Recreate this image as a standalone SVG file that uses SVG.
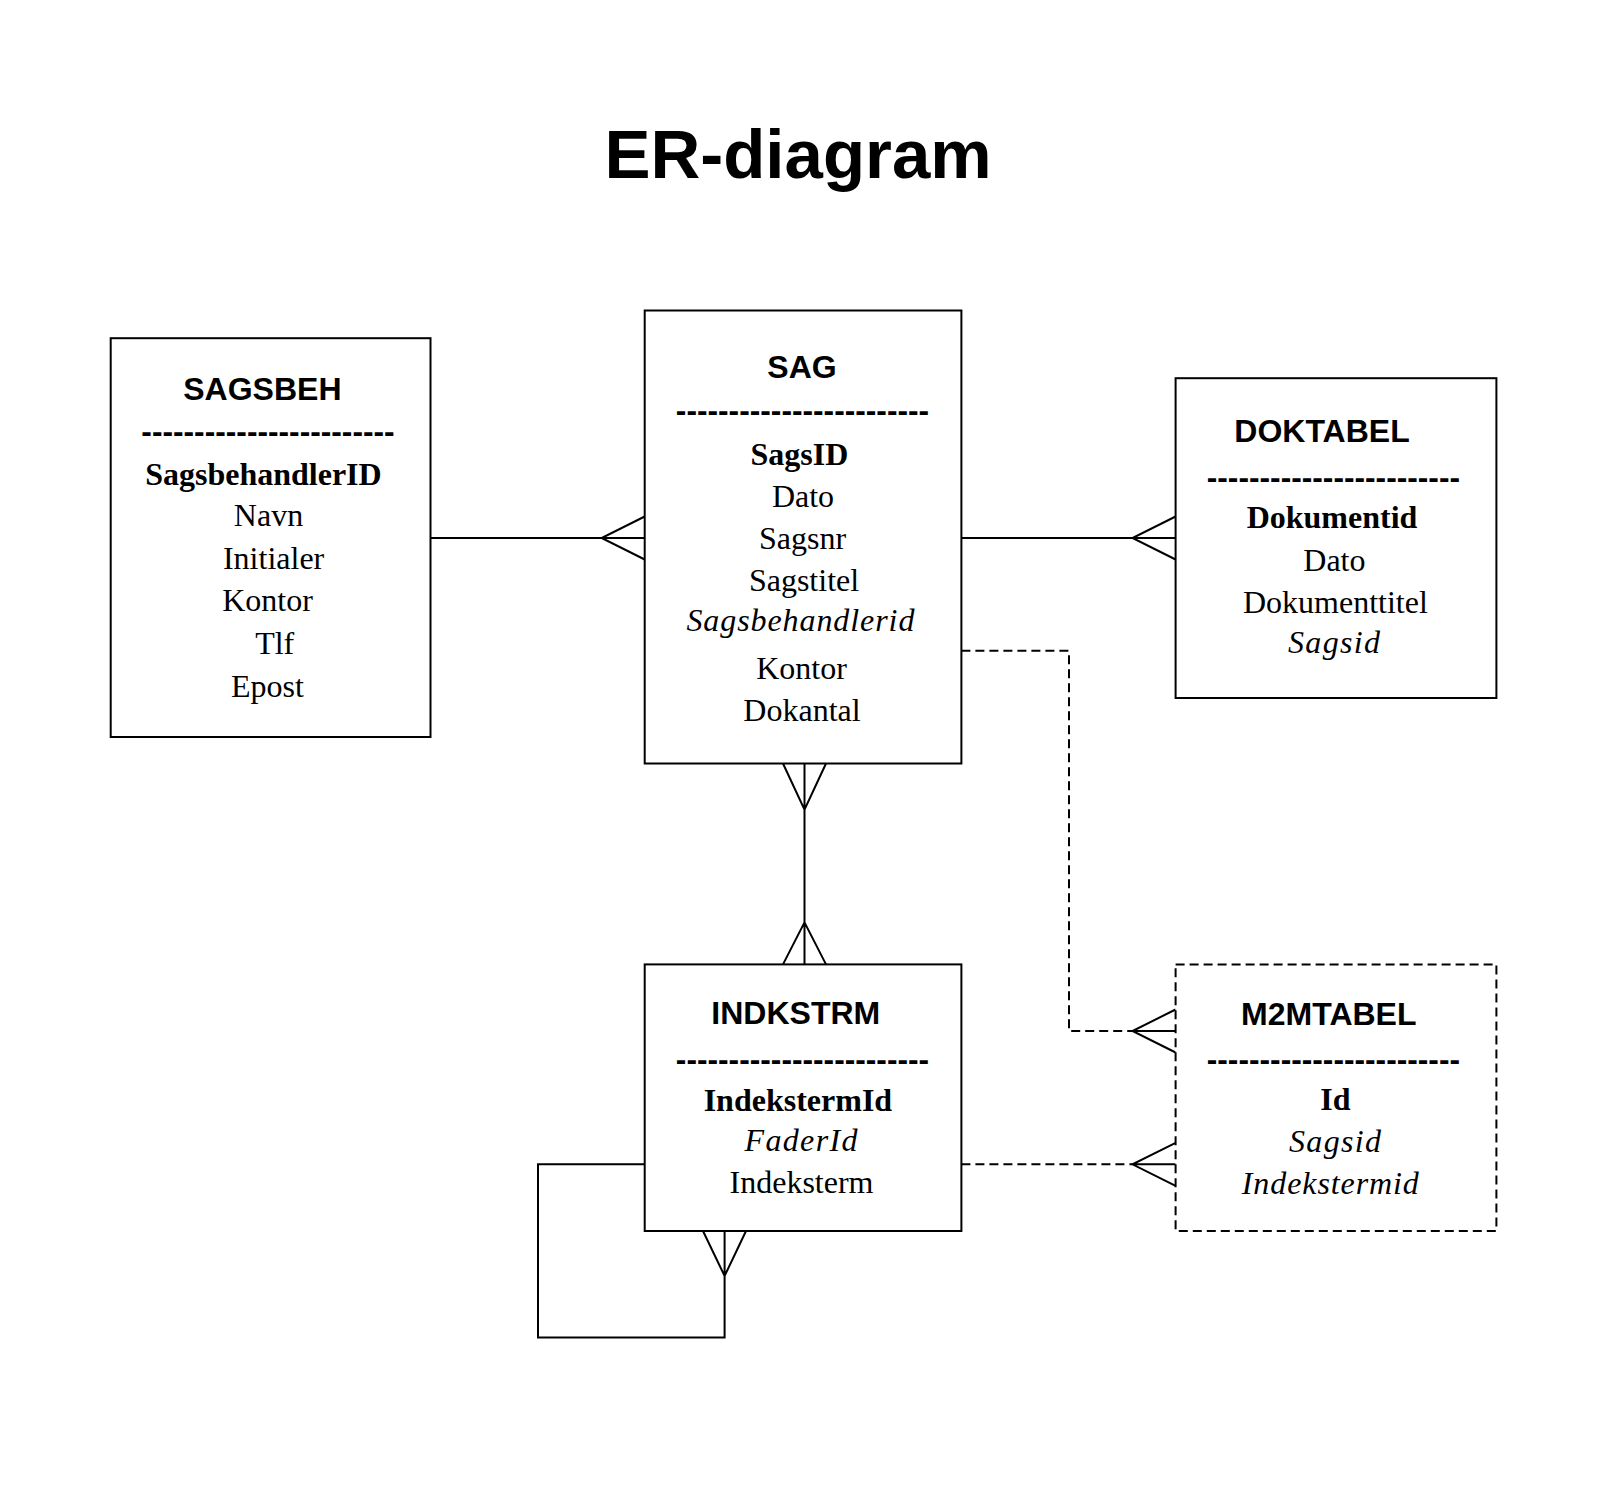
<svg xmlns="http://www.w3.org/2000/svg" width="1607" height="1500" viewBox="0 0 1607 1500">
<style>
.box{fill:#fff;stroke:#000;stroke-width:2}
.dbox{fill:#fff;stroke:#000;stroke-width:2;stroke-dasharray:9 5}
.ln{fill:none;stroke:#000;stroke-width:2}
.dl{fill:none;stroke:#000;stroke-width:2;stroke-dasharray:9 5}
.hd{font-family:"Liberation Sans",Arial,sans-serif;font-weight:bold;font-size:32px;text-anchor:middle}
.dash{font-family:"Liberation Sans",Arial,sans-serif;font-weight:bold;font-size:31.7px;text-anchor:middle}
.at{font-family:"Liberation Serif","Times New Roman",serif;font-size:32px;text-anchor:middle}
.b{font-weight:bold}
.i{font-style:italic}
.title{font-family:"Liberation Sans",Arial,sans-serif;font-weight:bold;font-size:69px;text-anchor:middle}
</style>
<rect width="1607" height="1500" fill="#fff"/>
<text class="title" x="798" y="178">ER-diagram</text>
<g id="connectors">
<path class="ln" d="M430.5,538 H644.7 M644.7,516.5 L601.6,538 L644.7,559.5"/>
<path class="ln" d="M961.4,538 H1175.6 M1175.6,516.5 L1132.5,538 L1175.6,559.5"/>
<path class="ln" d="M804.5,763.5 V964.4 M783,763.5 L804.5,809.7 L826,763.5 M783,964.4 L804.5,922.4 L826,964.4"/>
<path class="dl" d="M961.4,650.8 H1069 V1031 H1132.5"/>
<path class="ln" d="M1132.5,1031 H1175.6 M1175.6,1009.5 L1132.5,1031 L1175.6,1052.5"/>
<path class="dl" d="M961.4,1164.3 H1132.5"/>
<path class="ln" d="M1132.5,1164.3 H1175.6 M1175.6,1142.8 L1132.5,1164.3 L1175.6,1185.8"/>
<path class="ln" d="M644.7,1164.3 H538 V1337.5 H724.6 V1231 M703,1231 L724.6,1276 L746,1231"/>
</g>
<g id="SAGSBEH">
<rect class="box" x="110.7" y="338.2" width="319.8" height="398.8"/>
<text class="hd" x="262.4" y="400">SAGSBEH</text>
<text class="dash" x="268" y="442">------------------------</text>
<text class="at b" x="263.4" y="485">SagsbehandlerID</text>
<text class="at" x="268.5" y="526">Navn</text>
<text class="at" x="273.6" y="569">Initialer</text>
<text class="at" x="267.5" y="611">Kontor</text>
<text class="at" x="274.7" y="654">Tlf</text>
<text class="at" x="267.5" y="697">Epost</text>
</g>
<g id="SAG">
<rect class="box" x="644.7" y="310.5" width="316.7" height="453"/>
<text class="hd" x="802" y="378">SAG</text>
<text class="dash" x="802.5" y="420.5">------------------------</text>
<text class="at b" x="799.4" y="465.3">SagsID</text>
<text class="at" x="803" y="507.3">Dato</text>
<text class="at" x="802.5" y="549.3">Sagsnr</text>
<text class="at" x="804" y="591.4">Sagstitel</text>
<text class="at i" x="800.4" y="631.3" textLength="228" lengthAdjust="spacing">Sagsbehandlerid</text>
<text class="at" x="801.5" y="678.5">Kontor</text>
<text class="at" x="802" y="720.5">Dokantal</text>
</g>
<g id="DOKTABEL">
<rect class="box" x="1175.6" y="378.2" width="320.8" height="319.8"/>
<text class="hd" x="1322" y="441.7">DOKTABEL</text>
<text class="dash" x="1333.4" y="488">------------------------</text>
<text class="at b" x="1332" y="527.8">Dokumentid</text>
<text class="at" x="1334.4" y="570.9">Dato</text>
<text class="at" x="1335.4" y="612.9">Dokumenttitel</text>
<text class="at i" x="1334" y="652.9" textLength="92" lengthAdjust="spacing">Sagsid</text>
</g>
<g id="INDKSTRM">
<rect class="box" x="644.7" y="964.4" width="316.7" height="266.6"/>
<text class="hd" x="795.8" y="1023.9">INDKSTRM</text>
<text class="dash" x="802.5" y="1070.3">------------------------</text>
<text class="at b" x="797.9" y="1111">IndekstermId</text>
<text class="at i" x="801" y="1151" textLength="113" lengthAdjust="spacing">FaderId</text>
<text class="at" x="801.5" y="1193">Indeksterm</text>
</g>
<g id="M2MTABEL">
<rect class="dbox" x="1175.6" y="964.4" width="320.8" height="266.6"/>
<text class="hd" x="1328.8" y="1025">M2MTABEL</text>
<text class="dash" x="1333.4" y="1070.3">------------------------</text>
<text class="at b" x="1335.4" y="1110">Id</text>
<text class="at i" x="1335" y="1152" textLength="92" lengthAdjust="spacing">Sagsid</text>
<text class="at i" x="1330.3" y="1194" textLength="177" lengthAdjust="spacing">Indekstermid</text>
</g>
</svg>
